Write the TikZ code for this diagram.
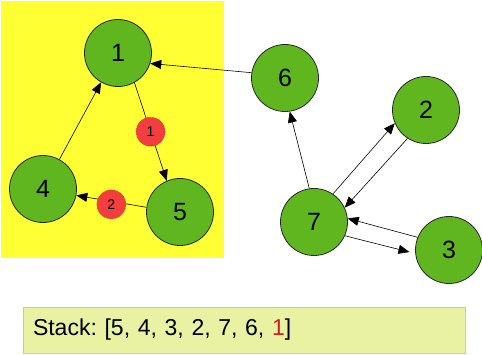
\documentclass[tikz,border=0pt]{standalone}
\usepackage{fontspec}
\setmainfont{Liberation Sans}
\usetikzlibrary{arrows.meta}
\definecolor{hlyellow}{RGB}{255,255,51}
\definecolor{vgreen}{RGB}{96,182,30}
\definecolor{badgered}{RGB}{242,62,62}
\definecolor{boxfill}{RGB}{232,242,162}
\definecolor{boxline}{RGB}{188,224,88}
\definecolor{topred}{RGB}{204,30,30}
\frenchspacing

\begin{document}
\begin{tikzpicture}[x=1pt,y=-1pt,
  vertex/.style={circle,draw=black!85,fill=vgreen,line width=0.8pt,minimum size=67pt,inner sep=0pt,font=\fontsize{25}{30}\selectfont},
  badge/.style={circle,draw=badgered!85!black,densely dotted,fill=badgered,minimum size=29pt,inner sep=0pt,font=\fontsize{14}{16}\selectfont},
  arr/.style={line width=0.6pt,-{Triangle[length=11pt,width=9pt]}},
  stackbox/.style={draw=boxline,fill=boxfill,line width=0.8pt,minimum width=442pt,minimum height=46pt,text width=422pt,align=left,inner xsep=10pt,font=\fontsize{23}{27}\selectfont}]
  \useasboundingbox (0,0) rectangle (482,355);
  \fill[hlyellow] (1,1) rectangle (224,258);

  \node[vertex] (n1) at (118,53) {1};
  \node[vertex] (n4) at (43,189) {4};
  \node[vertex] (n5) at (180,212) {5};
  \node[vertex] (n6) at (285,78) {6};
  \node[vertex] (n2) at (426,110) {2};
  \node[vertex] (n7) at (314,222) {7};
  \node[vertex] (n3) at (449,250) {3};

  \draw[arr] (n6.171) -- (n1.-18);
  \draw[arr] (n1.-61) -- node[badge] (b1) {1} (n5.113);
  \draw[arr] (n5.172) -- node[badge,yshift=-3pt] (b2) {2} (n4.-11);
  \draw[arr] (n4.61) -- (n1.240);
  \draw[arr] (n7.98) -- (n6.-82);
  \draw[arr] (n7.56) -- (n2.203);
  \draw[arr] (n2.237) -- (n7.25);
  \draw[arr] (n3.158) -- (n7.6);
  \draw[arr,shorten >=6pt] (n7.-24) -- (n3.186);

  \node[stackbox] (stack) at (244,330) {Stack: [5, 4, 3, 2, 7, 6, \textcolor{topred}{1}]};
\end{tikzpicture}
\end{document}
